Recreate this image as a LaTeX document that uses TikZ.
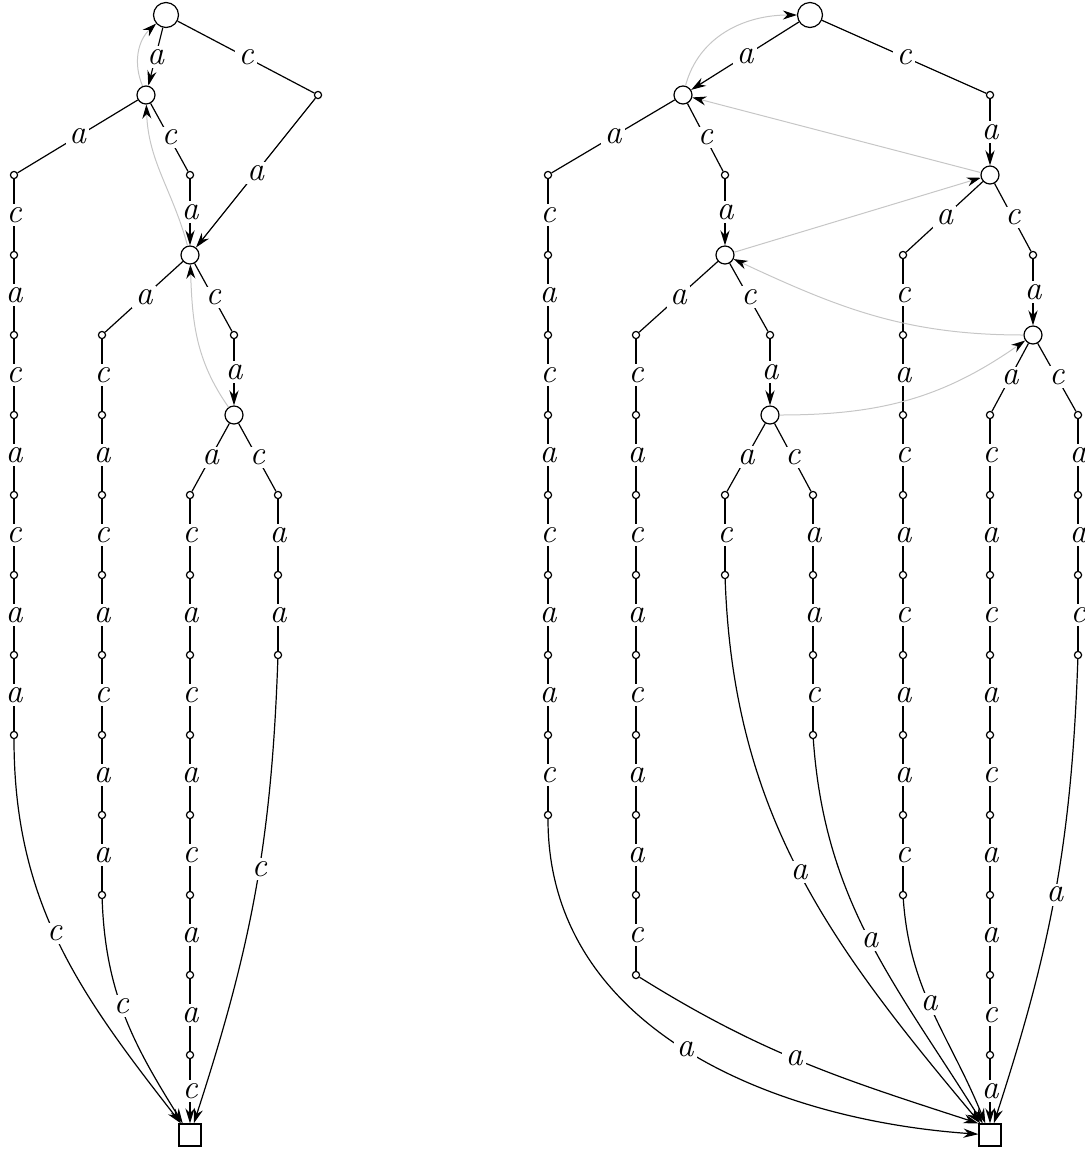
\documentclass[tikz,border=0pt]{standalone}
\usetikzlibrary{arrows.meta}

\tikzset{
  vtx/.style={draw, circle, minimum size=9pt, inner sep=0pt},
  rootvtx/.style={vtx, minimum size=12.5pt},
  dot/.style={draw, circle, fill=white, minimum size=3.6pt, inner sep=0pt},
  sink/.style={draw, rectangle, minimum size=11pt, inner sep=0pt},
  lbl/.style={fill=white, inner sep=1.6pt, font=\fontsize{17}{20}\selectfont\itshape},
  back/.style={draw=gray!45, line width=0.5pt, -{Stealth[color=black, length=7pt, width=4.5pt]}},
}

\begin{document}
\begin{tikzpicture}[x=0.5pt, y=-0.5pt, line width=0.6pt, >={Stealth[length=7.5pt, width=4.6pt]}]
    \useasboundingbox (0,0) rectangle (1085,1153);

    % left automaton
    \node[rootvtx] (L0) at (166,15) {};
    \node[vtx] (L1) at (146,95) {};
    \node[vtx] (L2) at (190,255) {};
    \node[vtx] (L3) at (234,415) {};
    \node[dot] (Lm) at (318,95) {};
    \node[dot] (Ln) at (190,175) {};
    \node[dot] (Lo) at (234,335) {};
    \node[sink] (Lend) at (190,1135) {};

    % right automaton
    \node[rootvtx] (R0) at (810,15) {};
    \node[vtx] (RA) at (683,95) {};
    \node[vtx] (RB) at (990,175) {};
    \node[vtx] (RC) at (725,255) {};
    \node[vtx] (RD) at (770,415) {};
    \node[vtx] (RE) at (1033,335) {};
    \node[dot] (Rm) at (990,95) {};
    \node[dot] (Rn) at (725,175) {};
    \node[dot] (Ro) at (770,335) {};
    \node[dot] (Rq) at (1033,255) {};
    \node[sink] (Rend) at (990,1135) {};

    % the long chains of small states
    \foreach \nm/\x/\y/\labs in {Lp/14/175/{c,a,c,a,c,a,a}, Lq/102/335/{c,a,c,a,c,a,a},
        Lr/190/495/{c,a,c,a,c,a,a}, Ls/278/495/{a,a},
        Rp/548/175/{c,a,c,a,c,a,a,c}, Rs/636/335/{c,a,c,a,c,a,a,c}, Rt/725/495/{c},
        Ru/813/495/{a,a,c}, Rv/903/255/{c,a,c,a,c,a,a,c}, Rw/990/415/{c,a,c,a,c,a,a,c},
        Rx/1078/415/{a,a,c}} {
        \node[dot] (\nm0) at (\x,\y) {};
        \foreach \lb [count=\i, remember=\i as \j (initially 0)] in \labs {
            \node[dot] (\nm\i) at (\x,\y+80*\i) {};
            \draw (\nm\j) -- node[lbl] {\lb} (\nm\i);
        }
    }

    % left tree
    \draw[->] (L0) -- node[lbl] {a} (L1);
    \draw (L0) -- node[lbl] {c} (Lm);
    \draw[->] (Lm) -- node[lbl] {a} (L2);
    \draw (L1) -- node[lbl] {a} (Lp0);
    \draw (L1) -- node[lbl] {c} (Ln);
    \draw[->] (Ln) -- node[lbl] {a} (L2);
    \draw (L2) -- node[lbl] {a} (Lq0);
    \draw (L2) -- node[lbl] {c} (Lo);
    \draw[->] (Lo) -- node[lbl] {a} (L3);
    \draw (L3) -- node[lbl] {a} (Lr0);
    \draw (L3) -- node[lbl] {c} (Ls0);

    \draw[->] (Lp7) to[out=-90, in=128] node[lbl, pos=0.47] {c} (Lend);
    \draw[->] (Lq7) to[out=-88, in=122] node[lbl, pos=0.45] {c} (Lend);
    \draw[->] (Lr7) -- node[lbl] {c} (Lend);
    \draw[->] (Ls2) to[out=-92, in=72] node[lbl, pos=0.44] {c} (Lend);

    \draw[back] (L1) to[bend left=35] (L0);
    \draw[back] (L2) to[out=105, in=-88] (L1);
    \draw[back] (L3) to[out=125, in=-88] (L2);

    % right tree
    \draw[->] (R0) -- node[lbl] {a} (RA);
    \draw (R0) -- node[lbl] {c} (Rm);
    \draw[->] (Rm) -- node[lbl] {a} (RB);
    \draw (RA) -- node[lbl] {a} (Rp0);
    \draw (RA) -- node[lbl] {c} (Rn);
    \draw[->] (Rn) -- node[lbl] {a} (RC);
    \draw (RC) -- node[lbl] {a} (Rs0);
    \draw (RC) -- node[lbl] {c} (Ro);
    \draw[->] (Ro) -- node[lbl] {a} (RD);
    \draw (RB) -- node[lbl] {a} (Rv0);
    \draw (RB) -- node[lbl] {c} (Rq);
    \draw[->] (Rq) -- node[lbl] {a} (RE);
    \draw (RD) -- node[lbl] {a} (Rt0);
    \draw (RD) -- node[lbl] {c} (Ru0);
    \draw (RE) -- node[lbl] {a} (Rw0);
    \draw (RE) -- node[lbl] {c} (Rx0);

    \draw[->] (Rp8) to[out=-90, in=176] node[lbl] {a} (Rend);
    \draw[->] (Rs8) to[out=-32, in=162] node[lbl, pos=0.47] {a} (Rend.north west);
    \draw[->] (Rt1) to[out=-88, in=130] node[lbl] {a} (Rend);
    \draw[->] (Ru3) to[out=-86, in=122] node[lbl] {a} (Rend);
    \draw[->] (Rv8) to[out=-86, in=112] node[lbl, pos=0.45] {a} (Rend);
    \draw[->] (Rw8) -- node[lbl] {a} (Rend);
    \draw[->] (Rx3) to[out=-92, in=72] node[lbl, pos=0.5] {a} (Rend);

    \draw[back] (RA) to[out=75, in=180] (R0);
    \draw[back] (RB) -- (RA);
    \draw[back] (RC) -- (RB);
    \draw[back] (RE) to[out=180, in=-25] (RC);
    \draw[back] (RD) to[out=0, in=-145] (RE);
\end{tikzpicture}
\end{document}
